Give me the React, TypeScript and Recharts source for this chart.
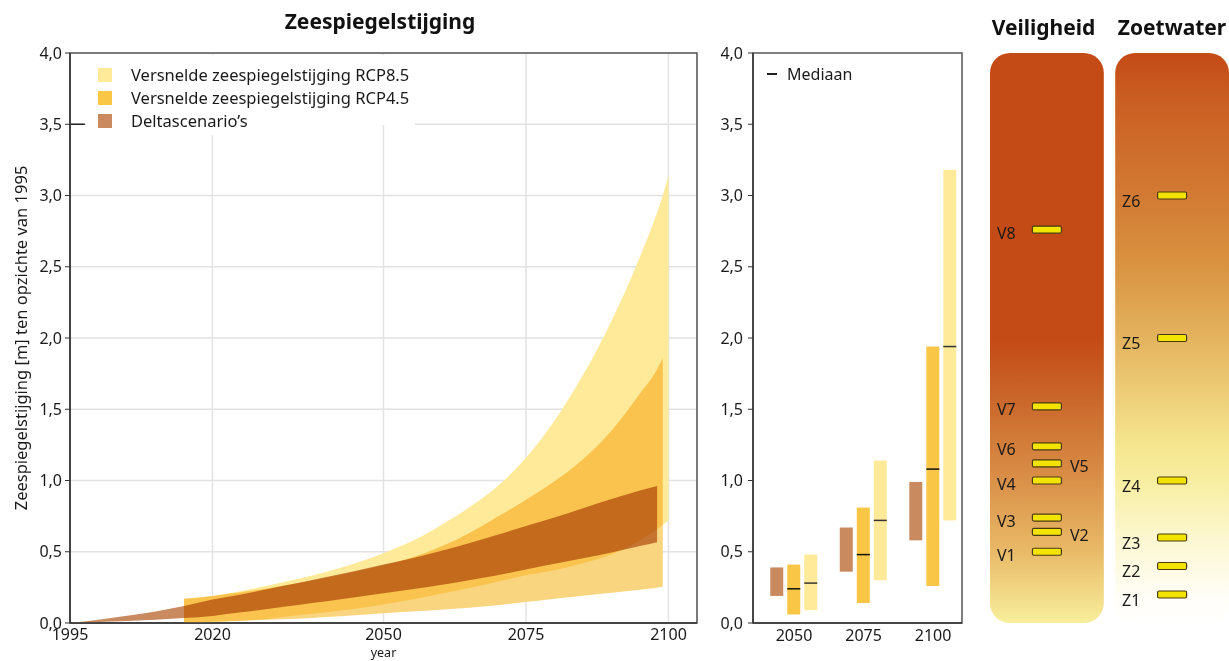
import React from 'react';
import {
  ComposedChart,
  Area,
  Bar,
  Scatter,
  XAxis,
  YAxis,
  CartesianGrid,
  Legend,
  ReferenceArea,
  ReferenceLine,
  Label,
} from 'recharts';

// Zeespiegelstijging t.o.v. 1995 (m): onder- en bovengrens per scenario
const years = [1995, 2015, 2020, 2025, 2030, 2035, 2040, 2045, 2050, 2055, 2060, 2065, 2070, 2075, 2080, 2085, 2090, 2095, 2098, 2099, 2100];
const deltaLow = [0, 0.035, 0.05, 0.075, 0.1, 0.126, 0.152, 0.18, 0.208, 0.237, 0.267, 0.3, 0.335, 0.375, 0.415, 0.455, 0.495, 0.54, 0.567, null, null];
const deltaHigh = [0, 0.12, 0.165, 0.2, 0.24, 0.28, 0.322, 0.365, 0.41, 0.455, 0.505, 0.56, 0.62, 0.68, 0.74, 0.805, 0.87, 0.93, 0.962, null, null];
const rcp45Low = [null, 0, 0.008, 0.016, 0.022, 0.03, 0.042, 0.055, 0.068, 0.08, 0.093, 0.107, 0.125, 0.147, 0.17, 0.192, 0.213, 0.234, 0.248, 0.255, null];
const rcp45High = [null, 0.17, 0.19, 0.215, 0.245, 0.28, 0.32, 0.36, 0.405, 0.46, 0.535, 0.63, 0.745, 0.865, 0.995, 1.15, 1.35, 1.61, 1.78, 1.86, null];
const rcp85Low = [null, 0, 0.005, 0.015, 0.03, 0.055, 0.075, 0.1, 0.13, 0.165, 0.205, 0.245, 0.29, 0.335, 0.37, 0.42, 0.48, 0.58, 0.66, 0.69, 0.72];
const rcp85High = [null, 0.17, 0.19, 0.225, 0.265, 0.31, 0.36, 0.42, 0.49, 0.575, 0.685, 0.81, 0.96, 1.16, 1.42, 1.74, 2.12, 2.57, 2.88, 3.0, 3.14];

// staafjes per zichtjaar
const barYears = [2050, 2075, 2100];
const deltaBarLow = [0.19, 0.36, 0.58];
const deltaBarHigh = [0.39, 0.67, 0.99];
const rcp45BarLow = [0.06, 0.14, 0.26];
const rcp45BarHigh = [0.41, 0.81, 1.94];
const rcp45BarMedian = [0.24, 0.48, 1.08];
const rcp85BarLow = [0.09, 0.3, 0.72];
const rcp85BarHigh = [0.48, 1.14, 3.18];
const rcp85BarMedian = [0.28, 0.72, 1.94];

// knikpunten
const veiligheidNames = ['V1', 'V2', 'V3', 'V4', 'V5', 'V6', 'V7', 'V8'];
const veiligheidValues = [0.5, 0.64, 0.74, 1.0, 1.12, 1.24, 1.52, 2.76];
const veiligheidRight = ['V2', 'V5'];
const zoetwaterNames = ['Z1', 'Z2', 'Z3', 'Z4', 'Z5', 'Z6'];
const zoetwaterValues = [0.2, 0.4, 0.6, 1.0, 2.0, 3.0];

const yTicks = [0, 0.5, 1, 1.5, 2, 2.5, 3, 3.5, 4];
const mainTicks = [1995, 2020, 2050, 2075, 2100];

const PLOT_TOP = 53;
const PLOT_BOTTOM = 623;

const C85 = '#FEEA99';
const C45 = '#FAD580';
const C45_SOLID = '#F9C646';
const CDELTA = '#C98A60';
const TEXT = '#1a1a1a';
const AXIS = '#333';

const legendItems = [
  { label: 'Versnelde zeespiegelstijging RCP8.5', color: C85 },
  { label: 'Versnelde zeespiegelstijging RCP4.5', color: C45_SOLID },
  { label: 'Deltascenario\u2019s', color: CDELTA },
];

const pair = (lo: (number | null)[], hi: (number | null)[], i: number) =>
  lo[i] == null ? null : [lo[i], hi[i]];

const mainRows = years.map((year, i) => ({
  year,
  delta: pair(deltaLow, deltaHigh, i),
  rcp45: pair(rcp45Low, rcp45High, i),
  rcp85: pair(rcp85Low, rcp85High, i),
}));

const barRows = barYears.map((year, i) => ({
  year,
  delta: [deltaBarLow[i], deltaBarHigh[i]],
  rcp45: [rcp45BarLow[i], rcp45BarHigh[i]],
  rcp45Median: rcp45BarMedian[i],
  rcp85: [rcp85BarLow[i], rcp85BarHigh[i]],
  rcp85Median: rcp85BarMedian[i],
}));

const veiligheidPoints = veiligheidNames.map((name, i) => ({
  x: 0.5,
  y: veiligheidValues[i],
  name,
  right: veiligheidRight.includes(name),
}));
const zoetwaterPoints = zoetwaterNames.map((name, i) => ({
  x: 1.6,
  y: zoetwaterValues[i],
  name,
  right: false,
}));

const fmt = (v: number) => v.toFixed(1).replace('.', ',');
const tickStyle = { fontSize: 16, fill: TEXT };

const LegendRow = ({ color, label }: { color: string; label: string }) => (
  <div style={{ display: 'flex', alignItems: 'center', height: 23 }}>
    <span style={{ width: 14, height: 14, background: color, marginRight: 19, flex: 'none' }} />
    <span style={{ whiteSpace: 'nowrap' }}>{label}</span>
  </div>
);

const MainLegend = () => (
  <div style={{ fontSize: 16.5, color: TEXT }}>
    <div style={{ background: '#fff', width: 'fit-content', padding: '8px 6px 16px 12px' }}>
      <LegendRow {...legendItems[0]} />
      <LegendRow {...legendItems[1]} />
    </div>
    <div style={{ background: '#fff', width: 'fit-content', padding: '0 4px 3px 12px', marginTop: -16 }}>
      <LegendRow {...legendItems[2]} />
    </div>
  </div>
);

const MedianLegend = () => (
  <div style={{ display: 'flex', alignItems: 'center', height: 22, fontSize: 16, color: TEXT }}>
    <span style={{ width: 10, height: 1.5, background: '#222', marginRight: 10 }} />
    <span>Mediaan</span>
  </div>
);

const YLabel = ({ viewBox }: any) => {
  const cx = viewBox.x + 10;
  const cy = (PLOT_TOP + PLOT_BOTTOM) / 2;
  return (
    <text
      x={cx}
      y={cy}
      transform={`rotate(-90 ${cx} ${cy})`}
      textAnchor="middle"
      dominantBaseline="central"
      fontSize={16.5}
      fill={TEXT}
    >
      Zeespiegelstijging [m] ten opzichte van 1995
    </text>
  );
};

const MainChart = () => (
  <ComposedChart width={710} height={661} data={mainRows} margin={{ top: PLOT_TOP, right: 13, bottom: 0, left: 10 }}>
    <CartesianGrid stroke="#e2e2e2" strokeWidth={1.5} />
    <XAxis
      type="number"
      dataKey="year"
      domain={[1995, 2105]}
      ticks={mainTicks}
      interval={0}
      tickLine={false}
      axisLine={{ stroke: AXIS, strokeWidth: 1.5 }}
      tick={{ ...tickStyle, dy: -2 }}
      height={661 - PLOT_BOTTOM}
    >
      <Label value="year" position="insideBottom" offset={4} fontSize={12.5} fill={TEXT} />
    </XAxis>
    <YAxis
      type="number"
      domain={[0, 4]}
      ticks={yTicks}
      interval={0}
      tickFormatter={fmt}
      width={60}
      tickSize={5}
      tickMargin={3}
      tickLine={{ stroke: AXIS }}
      axisLine={{ stroke: AXIS, strokeWidth: 1.5 }}
      tick={tickStyle}
    >
      <Label content={<YLabel />} />
    </YAxis>
    <ReferenceArea y1={0} y2={4} fill="none" stroke="#555" strokeWidth={1.5} />
    {/* witte onderlaag zodat het grid niet door de banden schijnt */}
    <Area dataKey="rcp85" type="monotone" fill="#fff" fillOpacity={1} stroke="none" isAnimationActive={false} />
    <Area dataKey="rcp45" type="monotone" fill="#fff" fillOpacity={1} stroke="none" isAnimationActive={false} />
    <Area dataKey="delta" type="monotone" fill="#fff" fillOpacity={1} stroke="none" isAnimationActive={false} />
    <Area className="blend" dataKey="rcp85" type="monotone" fill={C85} fillOpacity={1} stroke="none" isAnimationActive={false} />
    <Area className="blend" dataKey="rcp45" type="monotone" fill={C45} fillOpacity={1} stroke="none" isAnimationActive={false} />
    <Area className="blend" dataKey="delta" type="monotone" fill={CDELTA} fillOpacity={1} stroke="none" isAnimationActive={false} />
    <ReferenceLine segment={[{ x: 1995, y: 3.5 }, { x: 1997.6, y: 3.5 }]} stroke="#222" strokeWidth={1.5} />
    <Legend
      content={() => <MainLegend />}
      layout="horizontal"
      verticalAlign="middle"
      align="center"
      wrapperStyle={{ left: 86, top: 55, width: 'auto' }}
    />
  </ComposedChart>
);

const medianBar = (rangeKey: string, medianKey: string, lineColor: string) => (props: any) => {
  const { x, y, width, height, fill, payload } = props;
  const [lo, hi] = payload[rangeKey];
  const my = y + (height * (hi - payload[medianKey])) / (hi - lo);
  return (
    <g>
      <rect x={x} y={y} width={width} height={height} fill={fill} />
      <line x1={x} x2={x + width} y1={my} y2={my} stroke={lineColor} strokeWidth={1.5} />
    </g>
  );
};

const BarsChart = () => (
  <ComposedChart width={275} height={661} data={barRows} margin={{ top: PLOT_TOP, right: 13, bottom: 0, left: 0 }} barGap={4}>
    <XAxis
      type="number"
      dataKey="year"
      domain={[2035.25, 2110.4]}
      ticks={barYears}
      interval={0}
      tickLine={false}
      axisLine={{ stroke: AXIS, strokeWidth: 1.5 }}
      tick={{ ...tickStyle, dy: -1 }}
      height={661 - PLOT_BOTTOM}
    />
    <YAxis
      type="number"
      domain={[0, 4]}
      ticks={yTicks}
      interval={0}
      tickFormatter={fmt}
      width={53}
      tickSize={5}
      tickMargin={5}
      tickLine={{ stroke: AXIS }}
      axisLine={{ stroke: AXIS, strokeWidth: 1.5 }}
      tick={tickStyle}
    />
    <ReferenceArea y1={0} y2={4} fill="none" stroke="#555" strokeWidth={1.5} />
    <Bar dataKey="delta" barSize={13} fill={CDELTA} isAnimationActive={false} />
    <Bar dataKey="rcp45" barSize={13} fill={C45_SOLID} shape={medianBar('rcp45', 'rcp45Median', '#111')} isAnimationActive={false} />
    <Bar dataKey="rcp85" barSize={13} fill={C85} shape={medianBar('rcp85', 'rcp85Median', '#333')} isAnimationActive={false} />
    <Legend
      content={() => <MedianLegend />}
      layout="horizontal"
      verticalAlign="middle"
      align="center"
      wrapperStyle={{ left: 67, top: 63, width: 'auto' }}
    />
  </ComposedChart>
);

const Marker = (props: any) => {
  const { cx, cy, payload } = props;
  const isZ = payload.name.startsWith('Z');
  const tx = payload.right ? cx + 23 : cx - 50;
  return (
    <g>
      <rect x={cx - 14.5} y={cy - 3.5} width={29} height={7} rx={1.5} fill="#F2E300" stroke="#4a3b12" strokeWidth={1.2} />
      <text x={tx} y={cy + (isZ ? 5 : 3)} dominantBaseline="central" fontSize={16} fill={TEXT}>
        {payload.name}
      </text>
    </g>
  );
};

const boxShape = (gradId: string) => (props: any) => (
  <rect x={props.x} y={props.y} width={props.width} height={props.height} rx={20} ry={20} fill={`url(#${gradId})`} />
);

const TippingChart = () => (
  <ComposedChart width={239} height={661} margin={{ top: PLOT_TOP, right: 0, bottom: 661 - PLOT_BOTTOM, left: 0 }}>
    <defs>
      <linearGradient id="gradVeiligheid" x1="0" y1="0" x2="0" y2="1">
        <stop offset="0" stopColor="#C44A16" />
        <stop offset="0.5" stopColor="#C44A16" />
        <stop offset="0.62" stopColor="#CB6A2C" />
        <stop offset="0.75" stopColor="#DA9048" />
        <stop offset="0.875" stopColor="#E9BA68" />
        <stop offset="1" stopColor="#F8EF9C" />
      </linearGradient>
      <linearGradient id="gradZoetwater" x1="0" y1="0" x2="0" y2="1">
        <stop offset="0" stopColor="#C44A16" />
        <stop offset="0.08" stopColor="#CA5E22" />
        <stop offset="0.25" stopColor="#D27A33" />
        <stop offset="0.36" stopColor="#D8903E" />
        <stop offset="0.5" stopColor="#E4B35E" />
        <stop offset="0.61" stopColor="#EED07A" />
        <stop offset="0.68" stopColor="#F4E48C" />
        <stop offset="0.75" stopColor="#F8EEA0" />
        <stop offset="0.85" stopColor="#FCF7D0" />
        <stop offset="0.96" stopColor="#FFFEF8" />
        <stop offset="1" stopColor="#FFFFFF" />
      </linearGradient>
    </defs>
    <XAxis type="number" dataKey="x" domain={[0, 2.1]} hide />
    <YAxis type="number" dataKey="y" domain={[0, 4]} hide />
    <ReferenceArea x1={0} x2={1} y1={0} y2={4} shape={boxShape('gradVeiligheid')} />
    <ReferenceArea x1={1.1} x2={2.1} y1={0} y2={4} shape={boxShape('gradZoetwater')} />
    <Scatter data={veiligheidPoints} shape={<Marker />} isAnimationActive={false} />
    <Scatter data={zoetwaterPoints} shape={<Marker />} isAnimationActive={false} />
  </ComposedChart>
);

const title = (left: number, width: number, top: number): React.CSSProperties => ({
  position: 'absolute',
  left,
  width,
  top,
  textAlign: 'center',
  fontSize: 21,
  fontWeight: 700,
  lineHeight: '24px',
  color: '#111',
});

export default function App() {
  return (
    <div
      style={{
        position: 'absolute',
        left: 0,
        top: 0,
        width: 1229,
        height: 661,
        overflow: 'hidden',
        background: '#fff',
        fontFamily: '"Noto Sans", sans-serif',
        color: TEXT,
      }}
    >
      <style>{'.blend { mix-blend-mode: multiply; }'}</style>
      <div style={{ position: 'absolute', left: 0, top: 0 }}>
        <MainChart />
      </div>
      <div style={{ position: 'absolute', left: 700, top: 0 }}>
        <BarsChart />
      </div>
      <div style={{ position: 'absolute', left: 990, top: 0 }}>
        <TippingChart />
      </div>
      <div style={title(0, 760, 9)}>Zeespiegelstijging</div>
      <div style={title(980, 127, 15)}>Veiligheid</div>
      <div style={title(1110, 124, 15)}>Zoetwater</div>
    </div>
  );
}
